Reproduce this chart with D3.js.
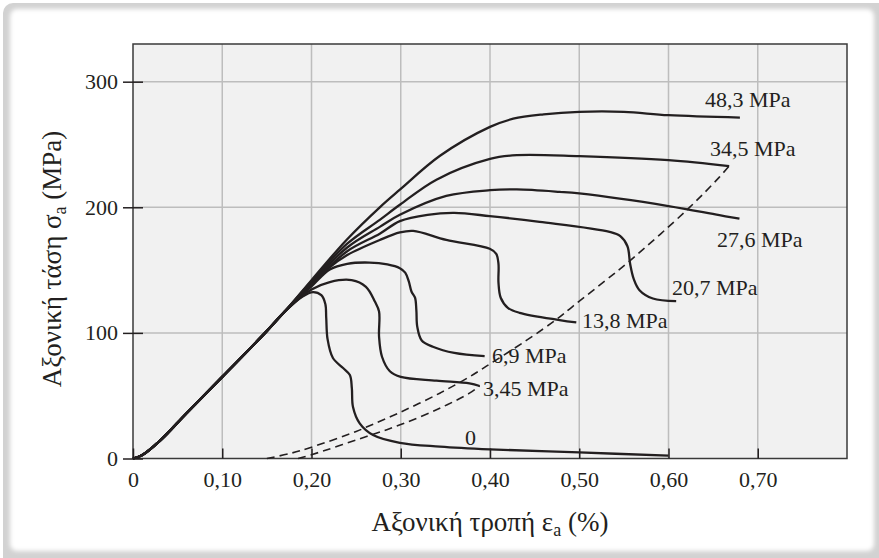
<!DOCTYPE html>
<html>
<head>
  <meta charset="utf8">
  <title>Axial stress-strain</title>
  <style type="text/css">
    body { margin: 0; background: #fff; }
    svg { display: block; font-family: "Liberation Serif", "DejaVu Serif", serif; }
    .tick text { font-size: 22px; fill: #231f20; }
    .tick line { stroke: #231f20; stroke-width: 1.5; }
    .curve { fill: none; stroke: #231f20; stroke-width: 2.3; stroke-linejoin: round; }
    .locus { fill: none; stroke: #231f20; stroke-width: 1.6; stroke-dasharray: 8 5; }
    .lbl { font-size: 22px; fill: #231f20; }
  </style>
</head>
<body>

<script src="https://d3js.org/d3.v7.min.js"></script>

<script type="text/javascript">
var width = 879, height = 558;

// axis ticks
var xTicks = [0, 0.1, 0.2, 0.3, 0.4, 0.5, 0.6, 0.7];
var xTickLabels = ['0', '0,10', '0,20', '0,30', '0,40', '0,50', '0,60', '0,70'];
var yTicks = [0, 100, 200, 300];

// common loading branch, strain (%) / stress (MPa)
var loading = [[0, 0], [0.01, 2.5], [0.03, 14], [0.06, 36], [0.10, 65], [0.148, 100], [0.17, 117]];

// each confining pressure, continued from the common branch
var p0 = [[0.19, 129], [0.2018, 132.5], [0.211, 130], [0.2155, 123], [0.2165, 112], [0.218, 95],
  [0.224, 80], [0.2354, 72], [0.243, 66.4], [0.2452, 56], [0.2465, 41], [0.254, 28], [0.269, 18.7],
  [0.299, 12.5], [0.344, 9.5], [0.4, 7.3], [0.5, 4.8], [0.6, 2.3]];
var p345 = [[0.2, 134.5], [0.2205, 140.5], [0.245, 142], [0.261, 136.7], [0.271, 125], [0.2757, 117],
  [0.2757, 97], [0.279, 81], [0.2878, 69.5], [0.3, 65], [0.34, 62], [0.377, 59.8], [0.3884, 57.7]];
var p69 = [[0.2, 137], [0.2205, 150.5], [0.24, 155], [0.265, 156], [0.285, 154.5], [0.299, 151.5],
  [0.305, 148], [0.309, 141], [0.312, 133], [0.316, 128], [0.3175, 118], [0.3185, 105], [0.3235, 94],
  [0.336, 89], [0.36, 84], [0.394, 81.5]];
var p138 = [[0.2, 138], [0.22, 152], [0.24, 162], [0.2765, 174], [0.299, 180], [0.314, 181.2],
  [0.351, 174], [0.3997, 167], [0.407, 163], [0.4095, 155], [0.4095, 140], [0.412, 128], [0.42, 120],
  [0.4332, 116], [0.478, 110.2], [0.4967, 108.3]];
var p207 = [[0.2, 139], [0.24, 165], [0.2765, 179], [0.299, 189], [0.33, 194], [0.36, 195.5],
  [0.3997, 193], [0.4556, 188.4], [0.534, 180.4], [0.546, 177], [0.554, 169], [0.557, 155],
  [0.561, 143], [0.5675, 134], [0.5825, 127.4], [0.6086, 125.3]];
var p276 = [[0.2, 140], [0.24, 168], [0.2765, 184.4], [0.299, 194], [0.351, 209], [0.4, 213.6],
  [0.43, 214.2], [0.478, 212.3], [0.5, 211], [0.6, 201], [0.657, 193.7], [0.6795, 191]];
var p345b = [[0.2, 141], [0.24, 171], [0.2765, 190], [0.299, 202], [0.34, 222], [0.4, 238.5],
  [0.43, 241.5], [0.5, 240.7], [0.6, 237.5], [0.668, 232.7]];
var p483 = [[0.2, 142], [0.2392, 174], [0.2765, 200], [0.299, 214], [0.344, 241], [0.4, 264],
  [0.426, 270.5], [0.46, 274], [0.5, 276], [0.55, 276], [0.6, 273.3], [0.68, 271.4]];

var series = [p0, p345, p69, p138, p207, p276, p345b, p483];
var seriesLabels = ['0', '3,45 MPa', '6,9 MPa', '13,8 MPa', '20,7 MPa', '27,6 MPa', '34,5 MPa', '48,3 MPa'];

// dashed loci
var upperLocus = [[0.15, 0], [0.176, 4], [0.2, 9], [0.25, 21.5], [0.2616, 25], [0.3, 37], [0.3437, 52],
  [0.377, 65], [0.396, 73.5], [0.4407, 94], [0.474, 110.5], [0.4925, 121], [0.53, 142], [0.556, 157],
  [0.62, 197.5], [0.657, 224], [0.668, 233]];
var lowerLocus = [[0.185, 0], [0.2, 3], [0.2616, 17.5], [0.3, 27], [0.3437, 40], [0.377, 52], [0.3884, 57.7]];

var svg = d3.select('body').append('svg')
    .attr('width', width)
    .attr('height', height);

// card frame
var defs = svg.append('defs');
defs.append('filter').attr('id', 'soft')
  .append('feGaussianBlur').attr('stdDeviation', 2.2);
svg.append('rect')
  .attr('x', 3).attr('y', 3).attr('width', 890).attr('height', 570).attr('rx', 10)
  .style('fill', '#d2d2d2');
svg.append('rect')
  .attr('x', 10).attr('y', 9).attr('width', 864).attr('height', 542).attr('rx', 7)
  .style('fill', '#fff')
  .attr('filter', 'url(#soft)');

var x = d3.scaleLinear().domain([0, 0.8]).range([133, 847]);
var y = d3.scaleLinear().domain([0, 330]).range([458.5, 44]);

// plot background
svg.append('rect')
  .attr('x', x(0)).attr('y', y(330))
  .attr('width', x(0.8) - x(0)).attr('height', y(0) - y(330))
  .style('fill', '#f1f1f1');

// grid
svg.append('g').selectAll('line').data(xTicks.slice(1)).enter().append('line')
  .attr('x1', d => x(d)).attr('x2', d => x(d))
  .attr('y1', y(0)).attr('y2', y(330))
  .style('stroke', '#bdbdbd').style('stroke-width', 1.5);
svg.append('g').selectAll('line').data(yTicks.slice(1)).enter().append('line')
  .attr('x1', x(0)).attr('x2', x(0.8))
  .attr('y1', d => y(d)).attr('y2', d => y(d))
  .style('stroke', '#bdbdbd').style('stroke-width', 1.5);

// frame
svg.append('rect')
  .attr('x', x(0)).attr('y', y(330))
  .attr('width', x(0.8) - x(0)).attr('height', y(0) - y(330))
  .style('fill', 'none').style('stroke', '#3a3a3a').style('stroke-width', 1.5);

// axes
var xAxis = svg.append('g')
  .attr('transform', 'translate(0,' + y(0) + ')')
  .call(d3.axisBottom(x).tickValues(xTicks)
    .tickFormat((d, i) => xTickLabels[i])
    .tickSizeInner(-10).tickSizeOuter(0).tickPadding(13));
xAxis.select('.domain').remove();

var yAxis = svg.append('g')
  .attr('transform', 'translate(' + x(0) + ',0)')
  .call(d3.axisLeft(y).tickValues(yTicks).tickSizeInner(10).tickSizeOuter(0).tickPadding(5));
yAxis.select('.domain').remove();
yAxis.selectAll('.tick').append('line').attr('x2', 10);
xAxis.attr('font-family', null).attr('font-size', null);
yAxis.attr('font-family', null).attr('font-size', null);

// curves
var line = d3.line()
  .x(d => x(d[0]))
  .y(d => y(d[1]))
  .curve(d3.curveCatmullRom.alpha(0.5));

svg.append('g').selectAll('path').data(series).enter().append('path')
  .attr('class', 'curve')
  .attr('d', d => line(loading.concat(d)));

svg.append('g').selectAll('path').data([upperLocus, lowerLocus]).enter().append('path')
  .attr('class', 'locus')
  .attr('d', line);

// curve labels (left x, baseline y in pixels)
var labelPos = [[465, 445], [483, 396], [492, 363], [582, 328], [672, 295], [717, 247], [710, 156], [705, 107]];
svg.append('g').selectAll('text').data(seriesLabels).enter().append('text')
  .attr('class', 'lbl')
  .attr('x', (d, i) => labelPos[i][0])
  .attr('y', (d, i) => labelPos[i][1])
  .text(d => d);

// axis titles
var xt = svg.append('text')
  .attr('x', 490).attr('y', 531)
  .attr('text-anchor', 'middle')
  .style('font-size', '27px').style('fill', '#231f20');
xt.append('tspan').text('Αξονική τροπή ε');
xt.append('tspan').text('a').style('font-size', '18px').attr('dy', 5);
xt.append('tspan').text(' (%)').attr('dy', -5);

var yt = svg.append('text')
  .attr('transform', 'translate(61,259) rotate(-90)')
  .attr('text-anchor', 'middle')
  .style('font-size', '27px').style('fill', '#231f20');
yt.append('tspan').text('Αξονική τάση σ');
yt.append('tspan').text('a').style('font-size', '18px').attr('dy', 5);
yt.append('tspan').text(' (MPa)').attr('dy', -5);
</script>

</body>
</html>
